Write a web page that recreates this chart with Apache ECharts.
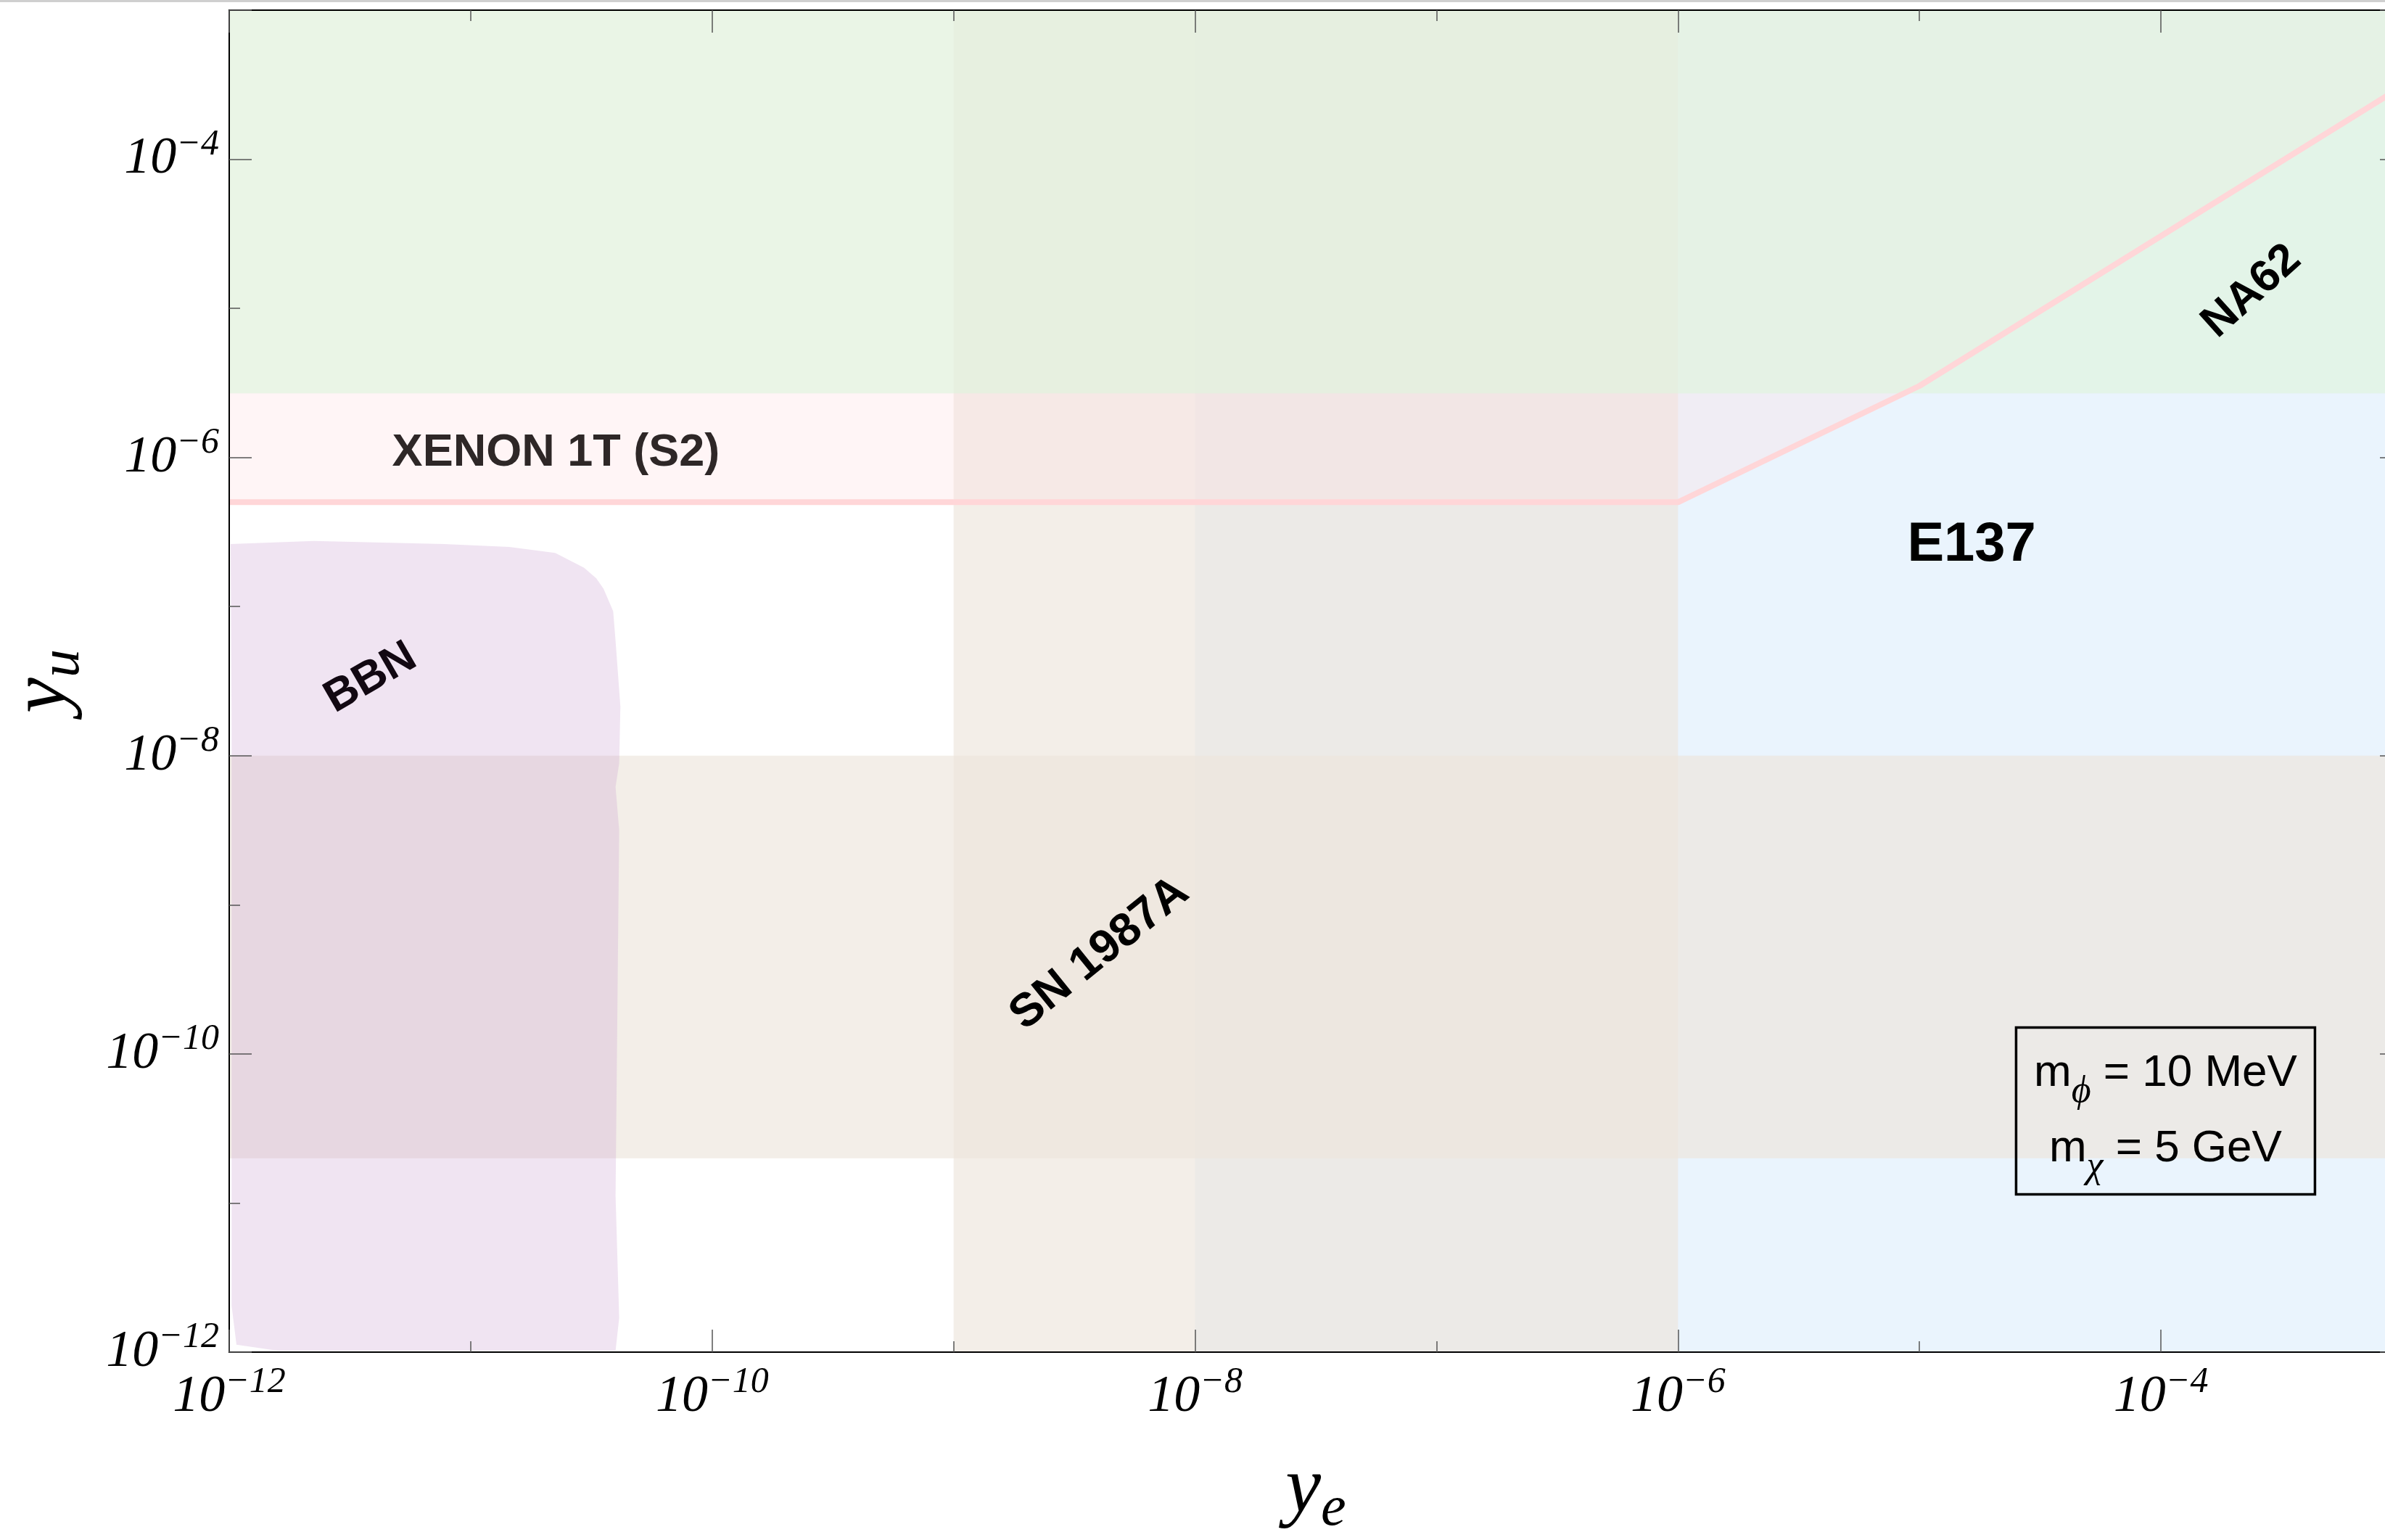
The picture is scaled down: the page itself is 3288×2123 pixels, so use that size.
<!DOCTYPE html>
<html>
<head>
<meta charset="utf-8">
<script src="https://cdn.jsdelivr.net/npm/echarts@6/dist/echarts.min.js"></script>
<style>
  html, body { margin: 0; padding: 0; background: #ffffff; }
  #chart { width: 3288px; height: 2123px; }
</style>
</head>
<body>
<div id="chart"></div>
<script>
// All couplings are stored as log10 exponents: [log10 y_e, log10 y_u]
const yeExponentRange = [-12, -3];
const yuExponentRange = [-12, -3];
const majorTickStep = 2;   // labelled decades
const minorTickStep = 1;   // every decade

// XENON 1T (S2): excluded above this boundary
const xenonBoundary = [[-12, -6.30], [-6, -6.30], [-5, -5.52], [-3, -3.51]];
// NA62: excluded above this y_u
const na62Floor = -5.57;
// E137 beam dump: y_e range
const e137YeRange = [-8, -3];
// SN 1987A: a vertical band in y_e and a horizontal band in y_u
const snYeRange = [-9, -6];
const snYuRange = [-10.70, -8];
// BBN: excluded patch at small couplings
const bbnOutline = [
  [-11.994, -6.58], [-11.65, -6.56], [-11.11, -6.58], [-10.84, -6.60], [-10.65, -6.64],
  [-10.53, -6.74], [-10.48, -6.81], [-10.45, -6.88], [-10.41, -7.03], [-10.40, -7.23],
  [-10.38, -7.67], [-10.385, -8.05], [-10.40, -8.21], [-10.385, -8.50], [-10.39, -9.31],
  [-10.40, -10.95], [-10.385, -11.77], [-10.40, -11.99],
  [-11.56, -11.99], [-11.80, -11.99], [-11.97, -11.95], [-11.99, -11.69], [-11.99, -7.80]
];

// Region names and where they are written
const regionNames = ['XENON 1T (S2)', 'E137', 'NA62', 'BBN', 'SN 1987A'];
const regionNameAnchors = [[-10.647, -5.972], [-4.784, -6.59], [-3.624, -4.887], [-11.414, -7.48], [-8.395, -9.328]];

// Benchmark masses
const massPhi = '10 MeV';
const massChi = '5 GeV';
const massBoxAnchor = [-3.981, -10.383];

const serif = "'Liberation Serif', 'Times New Roman', serif";
const sans = "'Liberation Sans', Arial, Helvetica, sans-serif";

function tickLabel(v) {
  if (Math.round(v) % majorTickStep !== 0) return '';
  return '{b|10}{s|\u2212' + Math.abs(Math.round(v)) + '}';
}

const tickRich = {
  b: { fontFamily: serif, fontStyle: 'italic', fontSize: 72, lineHeight: 90, verticalAlign: 'middle', color: '#000' },
  s: { fontFamily: serif, fontStyle: 'italic', fontSize: 50, lineHeight: 42, verticalAlign: 'top', color: '#000' }
};

const nameRich = {
  m: { fontFamily: serif, fontStyle: 'italic', fontSize: 110, lineHeight: 130, verticalAlign: 'middle', color: '#000' },
  sub: { fontFamily: serif, fontStyle: 'italic', fontSize: 78, lineHeight: 62, verticalAlign: 'bottom', color: '#000' }
};

function makeAxis(range, position, step, tickLen, withLine) {
  return {
    type: 'value',
    position: position,
    min: range[0],
    max: range[1],
    interval: step,
    z: 10,
    splitLine: { show: false },
    axisLine: { show: withLine, onZero: false, lineStyle: { color: '#000', width: 2 } },
    axisTick: { show: true, inside: true, length: tickLen, lineStyle: { color: '#555', width: 1.5 } },
    axisLabel: { show: false }
  };
}

const xMain = makeAxis(yeExponentRange, 'bottom', majorTickStep, 31, true);
xMain.axisLabel = {
  show: true, margin: 17, showMinLabel: true, showMaxLabel: true,
  formatter: tickLabel, rich: tickRich
};
xMain.name = '{m|y}{sub|e}';
xMain.nameLocation = 'middle';
xMain.nameGap = 126;
xMain.nameTextStyle = { rich: nameRich };

const yMain = makeAxis(yuExponentRange, 'left', majorTickStep, 31, true);
yMain.axisLabel = {
  show: true, margin: 14, showMinLabel: true, showMaxLabel: true,
  formatter: tickLabel, rich: tickRich
};
yMain.name = '{m|y}{sub|u}';
yMain.nameLocation = 'middle';
yMain.nameGap = 190;
yMain.nameRotate = 90;
yMain.nameTextStyle = { rich: nameRich };

const xAxes = [
  xMain,
  makeAxis(yeExponentRange, 'bottom', minorTickStep, 15, false),
  makeAxis(yeExponentRange, 'top', majorTickStep, 31, true),
  makeAxis(yeExponentRange, 'top', minorTickStep, 15, false)
];
const yAxes = [
  yMain,
  makeAxis(yuExponentRange, 'left', minorTickStep, 15, false),
  makeAxis(yuExponentRange, 'right', majorTickStep, 31, true),
  makeAxis(yuExponentRange, 'right', minorTickStep, 15, false)
];

function rect(x0, x1, y0, y1) {
  return [[x0, y0], [x1, y0], [x1, y1], [x0, y1]];
}

function regionSeries(name, pts, fill, z) {
  return {
    type: 'custom',
    name: name,
    coordinateSystem: 'cartesian2d',
    xAxisIndex: 0, yAxisIndex: 0,
    z: z,
    silent: true,
    animation: false,
    data: [pts[0]],
    renderItem: function (params, api) {
      return {
        type: 'polygon',
        shape: { points: pts.map(function (p) { return api.coord(p); }) },
        style: { fill: fill }
      };
    }
  };
}

const yeMin = yeExponentRange[0], yeMax = yeExponentRange[1];
const yuMin = yuExponentRange[0], yuMax = yuExponentRange[1];

const xenonRegion = xenonBoundary.concat([[yeMax, yuMax], [yeMin, yuMax]]);

const labelStyles = [
  { fontFamily: sans, fontWeight: 'bold', fontSize: 63, color: '#2e2727', rotate: 0 },
  { fontFamily: sans, fontWeight: 'bold', fontSize: 76, color: '#000', rotate: 0 },
  { fontFamily: sans, fontWeight: 'bold', fontSize: 62, color: '#000', rotate: 42 },
  { fontFamily: sans, fontWeight: 'bold', fontSize: 62, color: '#120812', rotate: 30 },
  { fontFamily: sans, fontWeight: 'bold', fontSize: 64, color: '#000', rotate: 39 }
];

const boxRich = {
  m: { fontFamily: sans, fontSize: 62, lineHeight: 104, verticalAlign: 'middle', align: 'center', color: '#000' },
  g: { fontFamily: serif, fontStyle: 'italic', fontSize: 52, lineHeight: 72, verticalAlign: 'bottom', align: 'center', color: '#000' },
  t: { fontFamily: sans, fontSize: 62, lineHeight: 104, verticalAlign: 'middle', align: 'center', color: '#000' }
};

const option = {
  backgroundColor: '#ffffff',
  animation: false,
  grid: { left: 316, top: 14, right: -24, bottom: 259, containLabel: false, outerBoundsMode: 'none' },
  xAxis: xAxes,
  yAxis: yAxes,
  graphic: [
    { type: 'rect', left: 0, top: 0, shape: { width: 3288, height: 3 }, style: { fill: '#cfcfcf' }, z: 100 }
  ],
  series: [
    regionSeries('E137', rect(e137YeRange[0], e137YeRange[1], yuMin, yuMax), '#eaf4fd', 1),
    regionSeries('SN 1987A (y_e)', rect(snYeRange[0], snYeRange[1], yuMin, yuMax), 'rgba(237,229,220,0.66)', 2),
    regionSeries('SN 1987A (y_u)', rect(yeMin, yeMax, snYuRange[0], snYuRange[1]), 'rgba(237,229,220,0.66)', 2),
    regionSeries('BBN', bbnOutline, 'rgba(201,159,209,0.28)', 3),
    regionSeries('XENON 1T (S2)', xenonRegion, 'rgba(255,222,225,0.30)', 4),
    regionSeries('NA62', rect(yeMin, yeMax, na62Floor, yuMax), 'rgba(223,245,221,0.65)', 5),
    {
      type: 'line',
      name: 'XENON 1T (S2) boundary',
      xAxisIndex: 0, yAxisIndex: 0,
      z: 6,
      silent: true,
      symbol: 'none',
      data: xenonBoundary,
      lineStyle: { color: '#ffd6d8', width: 8, opacity: 1 }
    },
    {
      type: 'scatter',
      xAxisIndex: 0, yAxisIndex: 0,
      z: 7,
      silent: true,
      symbolSize: 0,
      itemStyle: { opacity: 1 },
      data: regionNameAnchors.map(function (p, i) {
        return {
          value: p,
          name: regionNames[i],
          label: Object.assign({ show: true, position: 'inside', formatter: '{b}', opacity: 1 }, labelStyles[i])
        };
      })
    },
    {
      type: 'scatter',
      xAxisIndex: 0, yAxisIndex: 0,
      z: 7,
      silent: true,
      symbolSize: 0,
      itemStyle: { opacity: 1 },
      data: [{
        value: massBoxAnchor,
        label: {
          show: true,
          position: 'inside',
          opacity: 1,
          formatter: '{m|m}{g|\u03d5}{t| = ' + massPhi + '}\n{m|m}{g|\u03c7}{t| = ' + massChi + '}',
          width: 360,
          align: 'center',
          padding: [11, 26, 11, 26],
          borderColor: '#000',
          borderWidth: 3.5,
          rich: boxRich
        }
      }]
    }
  ]
};

const chart = echarts.init(document.getElementById('chart'), null, { renderer: 'canvas' });
chart.setOption(option);
</script>
</body>
</html>
